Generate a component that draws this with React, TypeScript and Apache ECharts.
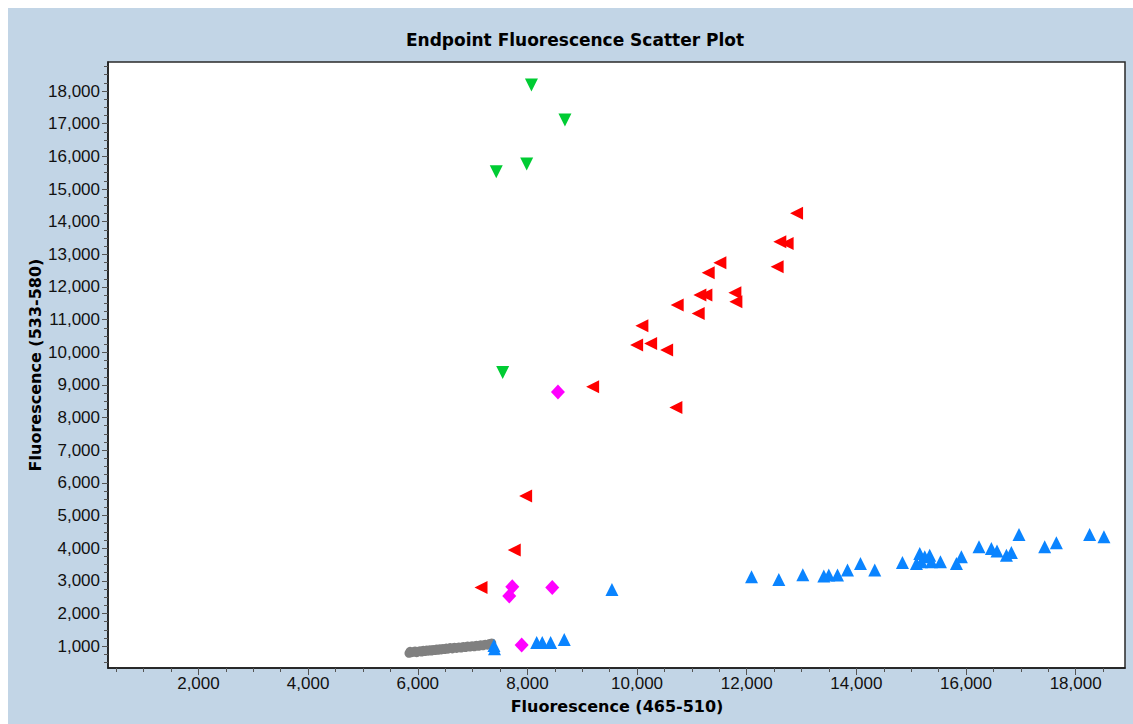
import React, { useEffect, useRef } from "react";
import * as echarts from "echarts";

const xMajorTicks = [2000, 4000, 6000, 8000, 10000, 12000, 14000, 16000, 18000];
const xMinorTicks = [500, 1000, 1500, 2000, 2500, 3000, 3500, 4000, 4500, 5000, 5500, 6000, 6500, 7000, 7500, 8000, 8500, 9000, 9500, 10000, 10500, 11000, 11500, 12000, 12500, 13000, 13500, 14000, 14500, 15000, 15500, 16000, 16500, 17000, 17500, 18000, 18500];
const yMajorTicks = [1000, 2000, 3000, 4000, 5000, 6000, 7000, 8000, 9000, 10000, 11000, 12000, 13000, 14000, 15000, 16000, 17000, 18000];
const yMinorTicks = [500, 750, 1000, 1250, 1500, 1750, 2000, 2250, 2500, 2750, 3000, 3250, 3500, 3750, 4000, 4250, 4500, 4750, 5000, 5250, 5500, 5750, 6000, 6250, 6500, 6750, 7000, 7250, 7500, 7750, 8000, 8250, 8500, 8750, 9000, 9250, 9500, 9750, 10000, 10250, 10500, 10750, 11000, 11250, 11500, 11750, 12000, 12250, 12500, 12750, 13000, 13250, 13500, 13750, 14000, 14250, 14500, 14750, 15000, 15250, 15500, 15750, 16000, 16250, 16500, 16750, 17000, 17250, 17500, 17750, 18000, 18250, 18500, 18750];

const grayPoints = [
  [5840, 780], [5860, 840], [5890, 800], [5920, 820], [5950, 850], [5980, 800], [6010, 830],
  [6040, 860], [6070, 820], [6100, 870], [6130, 835], [6160, 880], [6190, 845], [6220, 890],
  [6250, 850], [6280, 900], [6310, 865], [6340, 910], [6370, 870], [6400, 920], [6430, 885],
  [6460, 930], [6490, 895], [6520, 940], [6550, 905], [6590, 955], [6630, 915], [6670, 965],
  [6710, 930], [6750, 975], [6790, 940], [6830, 990], [6870, 955], [6910, 1005], [6950, 970],
  [6990, 1015], [7030, 980], [7070, 1030], [7110, 995], [7150, 1045], [7190, 1010],
  [7230, 1060], [7270, 1030], [7310, 1080], [7350, 1095],
];

const bluePoints = [
  [7390, 1020], [7400, 920], [8169, 1113], [8271, 1113], [8424, 1113], [8672, 1205],
  [9542, 2737], [12088, 3123], [12586, 3043], [13023, 3184], [13406, 3144], [13497, 3175],
  [13656, 3175], [13838, 3328], [14075, 3533], [14336, 3328], [14841, 3564], [15096, 3533],
  [15156, 3840], [15247, 3735], [15338, 3787], [15187, 3582], [15370, 3582], [15534, 3582],
  [15825, 3533], [15916, 3735], [16237, 4042], [16463, 3993], [16565, 3910], [16737, 3787],
  [16828, 3870], [16967, 4421], [17435, 4042], [17648, 4164], [18255, 4421], [18516, 4348],
];

const redPoints = [
  [12909, 14254], [12604, 13384], [12737, 13335], [12555, 12618], [11510, 12741], [11297, 12434],
  [11146, 11751], [11255, 11751], [11784, 11822], [11802, 11546], [10732, 11445], [11115, 11191],
  [10088, 10811], [9992, 10220], [10247, 10272], [10539, 10067], [9190, 8943], [10708, 8311],
  [7968, 5595], [7760, 3941], [7154, 2798],
];

const greenPoints = [
  [8074, 18184], [8685, 17112], [7987, 15764], [7432, 15528], [7549, 9384],
];

const magentaPoints = [
  [8557, 8780], [7724, 2816], [7669, 2532], [8453, 2798], [7895, 1031],
];

const labelFont = "'Liberation Sans', Arial, sans-serif";
const boldFont = "'DejaVu Sans', sans-serif";

function fmt(v: number) {
  return v.toLocaleString("en-US");
}

export default function App() {
  const ref = useRef<HTMLDivElement>(null);

  useEffect(() => {
    if (!ref.current) return;
    const chart = echarts.init(ref.current, undefined, { renderer: "svg" });
    const axisCommon = {
      type: "value" as const,
      splitLine: { show: false },
    };
    chart.setOption({
      animation: false,
      backgroundColor: "#C2D5E6",
      grid: {
        left: 100,
        top: 54,
        right: 8,
        bottom: 56,
        show: true,
        backgroundColor: "#ffffff",
        borderColor: "#2a2a2a",
        borderWidth: 1.5,
      },
      graphic: [
        {
          type: "text",
          x: 567,
          y: 32,
          style: {
            text: "Endpoint Fluorescence Scatter Plot",
            font: `bold 17px ${boldFont}`,
            fill: "#000",
            align: "center",
            verticalAlign: "middle",
          },
        },
        {
          type: "text",
          x: 609,
          y: 698,
          style: {
            text: "Fluorescence (465-510)",
            font: `bold 16px ${boldFont}`,
            fill: "#000",
            align: "center",
            verticalAlign: "middle",
          },
        },
        {
          type: "text",
          x: 27,
          y: 357,
          rotation: Math.PI / 2,
          style: {
            text: "Fluorescence (533-580)",
            font: `bold 16px ${boldFont}`,
            fill: "#000",
            align: "center",
            verticalAlign: "middle",
          },
        },
      ],
      xAxis: [
        {
          ...axisCommon,
          min: 350,
          max: 18900,
          position: "bottom",
          axisLine: { show: true, lineStyle: { color: "#1a1a1a", width: 1.5 } },
          axisTick: { show: true, length: 7, customValues: xMajorTicks, lineStyle: { color: "#555" } },
          axisLabel: {
            customValues: xMajorTicks,
            formatter: (v: number) => fmt(v),
            color: "#111",
            fontFamily: labelFont,
            fontSize: 17,
            margin: 7,
          },
        },
        {
          ...axisCommon,
          min: 350,
          max: 18900,
          position: "bottom",
          axisLine: { show: false },
          axisTick: { show: true, length: 4, customValues: xMinorTicks, lineStyle: { color: "#555" } },
          axisLabel: { show: false },
        },
      ],
      yAxis: [
        {
          ...axisCommon,
          min: 330,
          max: 18890,
          position: "left",
          axisLine: { show: true, lineStyle: { color: "#1a1a1a", width: 1.5 } },
          axisTick: { show: true, length: 6, customValues: yMajorTicks, lineStyle: { color: "#555" } },
          axisLabel: {
            customValues: yMajorTicks,
            formatter: (v: number) => fmt(v),
            color: "#111",
            fontFamily: labelFont,
            fontSize: 17,
            margin: 8,
          },
        },
        {
          ...axisCommon,
          min: 330,
          max: 18890,
          position: "left",
          axisLine: { show: false },
          axisTick: { show: true, length: 4, customValues: yMinorTicks, lineStyle: { color: "#555" } },
          axisLabel: { show: false },
        },
      ],
      series: [
        {
          type: "scatter",
          name: "gray",
          data: grayPoints,
          symbol: "circle",
          symbolSize: 9,
          itemStyle: { color: "#808080", opacity: 1 },
        },
        {
          type: "scatter",
          name: "blue",
          data: bluePoints,
          symbol: "triangle",
          symbolSize: 13,
          itemStyle: { color: "#0A84FF", opacity: 1 },
        },
        {
          type: "scatter",
          name: "red",
          data: redPoints,
          symbol: "triangle",
          symbolRotate: 90,
          symbolSize: 13,
          itemStyle: { color: "#FF0000", opacity: 1 },
        },
        {
          type: "scatter",
          name: "green",
          data: greenPoints,
          symbol: "triangle",
          symbolRotate: 180,
          symbolSize: 13,
          itemStyle: { color: "#00CC33", opacity: 1 },
        },
        {
          type: "scatter",
          name: "magenta",
          data: magentaPoints,
          symbol: "diamond",
          symbolSize: [14, 15],
          itemStyle: { color: "#FF00FF", opacity: 1 },
        },
      ],
    });
    return () => chart.dispose();
  }, []);

  return (
    <div
      ref={ref}
      style={{ position: "fixed", left: 8, top: 8, width: 1125, height: 716 }}
    />
  );
}
